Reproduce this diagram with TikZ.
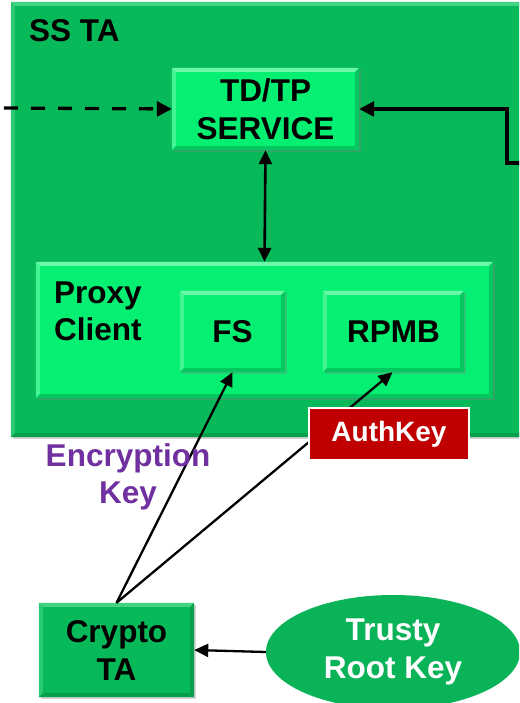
\documentclass[tikz,border=0pt]{standalone}
\usepackage{fontspec}
\setmainfont{Liberation Sans}
\usetikzlibrary{arrows.meta,shapes.geometric,shadows}

\definecolor{taGreen}{HTML}{08B95A}
\definecolor{taLight}{HTML}{3FD383}
\definecolor{taDark}{HTML}{06A04D}
\definecolor{svcGreen}{HTML}{05F073}
\definecolor{svcLight}{HTML}{6CF8A8}
\definecolor{svcDark}{HTML}{04C85F}
\definecolor{keyRed}{HTML}{C00000}
\definecolor{rootGreen}{HTML}{0BB358}
\definecolor{encPurple}{HTML}{7030A0}

% bevelled edges of a rectangular node: #1 name, #2 depth, #3 light, #4 dark
\newcommand\bevelnode[4]{%
  \fill[#3] (#1.north west) -- (#1.north east)
     -- ([xshift=-#2,yshift=-#2]#1.north east) -- ([xshift=#2,yshift=-#2]#1.north west) -- cycle;
  \fill[#3, opacity=0.6] (#1.north west) -- ([xshift=#2,yshift=-#2]#1.north west)
     -- ([xshift=#2,yshift=#2]#1.south west) -- (#1.south west) -- cycle;
  \fill[#4] (#1.south west) -- (#1.south east)
     -- ([xshift=-#2,yshift=#2]#1.south east) -- ([xshift=#2,yshift=#2]#1.south west) -- cycle;
  \fill[#4] (#1.north east) -- ([xshift=-#2,yshift=-#2]#1.north east)
     -- ([xshift=-#2,yshift=#2]#1.south east) -- (#1.south east) -- cycle;
}

\tikzset{
  bigfont/.style={font=\fontsize{31.5}{38}\selectfont\bfseries},
  box/.style={rectangle, inner sep=0pt, align=center, bigfont,
    drop shadow={shadow xshift=2pt, shadow yshift=-2pt, opacity=0.35}},
  tabox/.style={box, fill=taGreen},
  svcbox/.style={box, fill=svcGreen},
  conn/.style={line width=2.3pt, -{Triangle[length=14pt,width=13pt]}},
  thick conn/.style={line width=3.3pt, -{Triangle[length=15pt,width=15pt]}},
}

\begin{document}
\begin{tikzpicture}[x=1pt, y=-1pt]
\useasboundingbox (0,0) rectangle (519,703);
\clip (0,0) rectangle (519,703);

% outer trusted application
\node[tabox, minimum width=519pt, minimum height=435pt] (ssta) at (270.5,219.5) {};
\bevelnode{ssta}{4pt}{taLight}{taDark}
\node[anchor=west, inner sep=0pt, bigfont] (sstalabel) at (29,31) {SS TA};

% TD/TP service
\node[svcbox, minimum width=187pt, minimum height=82pt] (tdtp) at (265.5,109) {TD/TP\\SERVICE};
\bevelnode{tdtp}{4pt}{svcLight}{svcDark}

% proxy client with its two back ends
\node[svcbox, minimum width=457pt, minimum height=136pt] (proxy) at (264.5,330) {};
\bevelnode{proxy}{4pt}{svcLight}{svcDark}
\node[anchor=west, inner sep=0pt, align=left, font=\fontsize{31.5}{37}\selectfont\bfseries] (proxylabel) at (54,311) {Proxy\\Client};

\node[svcbox, minimum width=105pt, minimum height=81pt] (fs) at (232.5,331.5) {FS};
\bevelnode{fs}{4pt}{svcLight}{svcDark}
\node[svcbox, minimum width=141pt, minimum height=81pt] (rpmb) at (393.5,331.5) {RPMB};
\bevelnode{rpmb}{4pt}{svcLight}{svcDark}

% incoming connections of the service
\coordinate (dashin) at (4,108);
\coordinate (rightin) at (525,163);
\coordinate (rightbend) at (507,163);
\draw[thick conn, dash pattern=on 14pt off 13pt] (dashin) -- (tdtp.west);
\draw[thick conn] (rightin) -- (rightbend) |- (tdtp.east);
\draw[line width=2.6pt, {Triangle[length=14pt,width=13pt]}-{Triangle[length=14pt,width=13pt]}]
  (tdtp.south) -- (proxy.north);

% crypto TA and root key
\node[tabox, minimum width=155pt, minimum height=94pt] (crypto) at (116.5,650) {Crypto\\TA};
\bevelnode{crypto}{4pt}{taLight}{taDark}
\node[ellipse, fill=rootGreen, inner sep=0pt, minimum width=254pt, minimum height=114pt,
      text=white, align=center, bigfont] (root) at (393,652) {Trusty\\Root Key};
\draw[conn] (root.west) -- (crypto.east);

% key provisioning paths
\draw[conn] (crypto.north) -- (fs.south);
\draw[conn] (crypto.north) -- ([xshift=-1pt]rpmb.south);

\node[draw=white, line width=1.5pt, fill=keyRed, minimum width=160pt, minimum height=52pt,
      inner sep=0pt, text=white, font=\fontsize{28}{32}\selectfont\bfseries] (authkey) at (389,434) {AuthKey};
\node[inner sep=0pt, align=center, text=encPurple, font=\fontsize{31.5}{37}\selectfont\bfseries] (enckey) at (128,477) {Encryption\\Key};
\end{tikzpicture}
\end{document}
